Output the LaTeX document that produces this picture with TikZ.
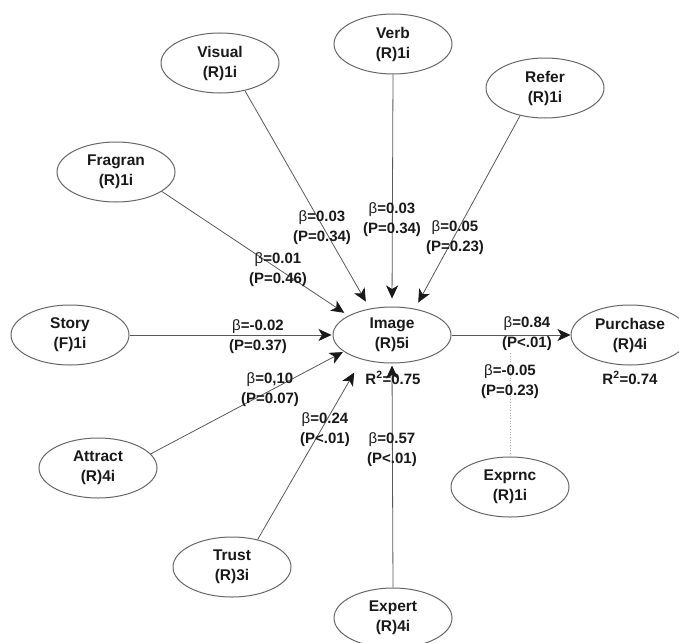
\documentclass[tikz,border=0pt]{standalone}
\usepackage{fontspec}
\setmainfont{Liberation Sans}
\usetikzlibrary{shapes.geometric,arrows.meta}
\newcommand{\bt}{{\mdseries β}}
\begin{document}
\begin{tikzpicture}[x=1pt,y=-1pt,
  lv/.style={ellipse, draw=black!60, line width=1pt, minimum width=118pt, minimum height=60pt,
    inner sep=0pt, align=center, font=\bfseries\fontsize{15.5}{20}\selectfont, text=black!90},
  lab/.style={align=center, font=\bfseries\fontsize{15}{20}\selectfont, text=black!90, inner sep=0pt},
  conn/.style={draw=black!65, line width=0.8pt, -{Stealth[length=13pt,width=12pt,inset=3.5pt,color=black!90]}},
  modline/.style={draw=black!30, line width=0.7pt, dotted}
]
\useasboundingbox (0,0) rectangle (679,642);

% latent variables
\node[lv] (Visual)  at (220,63)  {Visual\\(R)1i};
\node[lv] (Verb)    at (393,44)  {Verb\\(R)1i};
\node[lv] (Refer)   at (545,88)  {Refer\\(R)1i};
\node[lv] (Fragran) at (116,172) {Fragran\\(R)1i};
\node[lv] (Story)   at (70,335)  {Story\\(F)1i};
\node[lv, minimum height=56pt] (Image) at (392,335) {Image\\(R)5i};
\node[lv] (Purchase) at (630,335) {Purchase\\(R)4i};
\node[lv] (Attract) at (98,468)  {Attract\\(R)4i};
\node[lv] (Trust)   at (232,567) {Trust\\(R)3i};
\node[lv] (Expert)  at (393,618) {Expert\\(R)4i};
\node[lv] (Exprnc)  at (510,487) {Exprnc\\(R)1i};
\coordinate (modend) at (510,352);

% paths
\draw[conn, shorten >=8pt] (Visual.-48) -- (Image.130);
\draw[conn, shorten >=8pt] (Verb.south) -- (Image.north);
\draw[conn, shorten >=7pt] (Refer.228) -- (Image.49);
\draw[conn, shorten >=5pt] (Fragran.-23) -- (Image.156);
\draw[conn, shorten >=1pt] (Story.east) -- (Image.west);
\draw[conn, shorten >=1pt] (Attract.15) -- (Image.199);
\draw[conn, shorten >=15pt] (Trust.47) -- (Image.219);
\draw[conn, shorten >=2pt] (Expert.north) -- (Image.south);
\draw[conn] (Image.east) -- (Purchase.west);
\draw[modline] (Exprnc.north) -- (modend);

% coefficients
\node[lab] (lFragran) at (278,270) {\bt=0.01\\(P=0.46)};
\node[lab] (lVisual)  at (322,228) {\bt=0.03\\(P=0.34)};
\node[lab] (lVerb)    at (392,220) {\bt=0.03\\(P=0.34)};
\node[lab] (lRefer)   at (455,238) {\bt=0.05\\(P=0.23)};
\node[lab] (lStory)   at (258,337) {\bt=-0.02\\(P=0.37)};
\node[lab] (lAttract) at (270,390) {\bt=0,10\\(P=0.07)};
\node[lab] (lTrust)   at (325,430) {\bt=0.24\\(P<.01)};
\node[lab] (lExpert)  at (392,450) {\bt=0.57\\(P<.01)};
\node[lab] (lPurch)   at (527,334) {\bt=0.84\\(P<.01)};
\node[lab] (lExprnc)  at (510,382) {\bt=-0.05\\(P=0.23)};
\node[lab] (r2img)    at (393,378) {R\textsuperscript{2}=0.75};
\node[lab] (r2pur)    at (630,378) {R\textsuperscript{2}=0.74};
\end{tikzpicture}
\end{document}
